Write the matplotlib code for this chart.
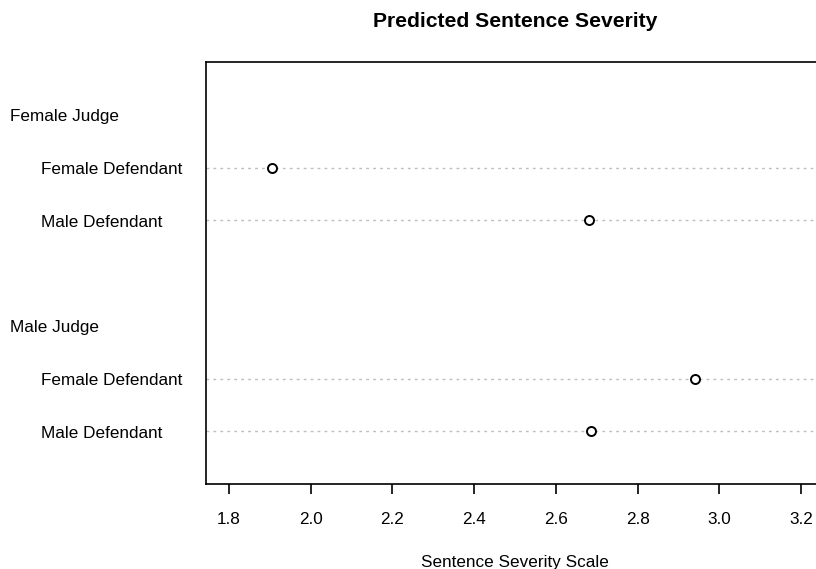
import matplotlib
matplotlib.use("Agg")
import matplotlib.pyplot as plt

plt.rcParams['font.family'] = ['Liberation Sans', 'DejaVu Sans']

groups = ["Female Judge", "Male Judge"]
items = ["Female Defendant", "Male Defendant"]
# severity values per group (order matches items)
female_judge = [1.905, 2.680]
male_judge = [2.940, 2.685]
ticks = [1.8, 2.0, 2.2, 2.4, 2.6, 2.8, 3.0, 3.2]

W, H = 816, 569
fig = plt.figure(figsize=(W / 100, H / 100), dpi=100)
ax = fig.add_axes([206 / W, 1 - 484 / H, 618 / W, 422 / H])
ax.set_xlim(1.744, 3.256)
ax.set_ylim(0, 8)

def label(x_px, y_data, s):
    # baseline sits ~6.5 px below the row line
    yb = ax.transData.transform((0, y_data))[1] - 6.5
    fig.text(x_px / W, yb / H, s, ha='left', va='baseline', fontsize=12.3)

# y layout as in R dotchart: group label above its items, with a gap
rows = [(groups[1], male_judge, 3), (groups[0], female_judge, 7)]
for gname, vals, ylab in rows:
    for k, (name, v) in enumerate(zip(items, vals)):
        y = ylab - 1 - k
        ax.axhline(y, color='#bebebe', linestyle=(0, (2, 3)), linewidth=1.0, zorder=1)
        ax.plot(v, y, 'o', markerfacecolor='white', markeredgecolor='black',
                markersize=6.5, markeredgewidth=1.4, zorder=3)
        label(41, y, name)
    label(10, ylab, gname)

ax.set_yticks([])
ax.set_xticks(ticks)
ax.set_xticklabels([])
ax.tick_params(axis='x', direction='out', length=7, width=1.2)
for t in ticks:
    xp = ax.transData.transform((t, 0))[0]
    fig.text(xp / W, (H - 524) / H, f"{t:.1f}", ha='center', va='baseline', fontsize=12.3)
for s in ax.spines.values():
    s.set_linewidth(1.2)

fig.text(515 / W, (H - 567) / H, "Sentence Severity Scale", ha='center', va='baseline',
         fontsize=12.3)
fig.text(515 / W, (H - 27) / H, "Predicted Sentence Severity", ha='center', va='baseline',
         fontsize=15.2, fontweight='bold')

fig.savefig("out.png", dpi=100)
